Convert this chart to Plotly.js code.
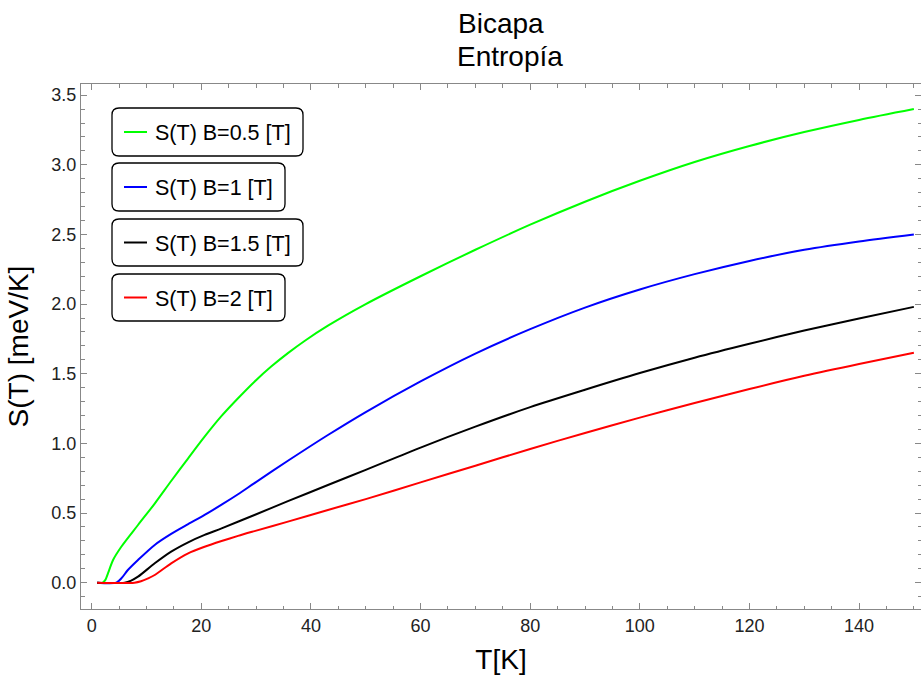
<!DOCTYPE html>
<html>
<head>
<meta charset="utf-8">
<script src="https://cdn.plot.ly/plotly-3.0.1.min.js"></script>
<style>html,body{margin:0;padding:0;background:#fff;}</style>
</head>
<body>
<div id="chart" style="width:921px;height:678px;"></div>
<script>
// ---- data ----
const seriesNames = ["S(T) B=0.5 [T]", "S(T) B=1 [T]", "S(T) B=1.5 [T]", "S(T) B=2 [T]"];

const T_B05 = [1, 2, 2.5, 3, 3.9, 5.4, 8.45, 11.5, 14.5, 17.6, 20.6, 23.7, 26.7, 29.7, 32.8, 35.8, 38.9, 43.1, 50, 60, 70, 80, 90, 100, 110, 120, 130, 140, 150];
const S_B05 = [0, 0, 0.02, 0.07, 0.163, 0.258, 0.414, 0.568, 0.73, 0.893, 1.048, 1.197, 1.324, 1.443, 1.553, 1.648, 1.737, 1.845, 2.0, 2.2, 2.39, 2.57, 2.735, 2.885, 3.02, 3.135, 3.235, 3.322, 3.40];

const T_B1 = [1, 4.5, 5.5, 6.6, 8.45, 11.5, 14.5, 17.6, 20.6, 23.7, 26.7, 29.7, 35.8, 43.1, 50, 60, 70, 80, 90, 100, 110, 120, 130, 140, 150];
const S_B1 = [0, 0, 0.035, 0.091, 0.163, 0.271, 0.35, 0.42, 0.486, 0.56, 0.635, 0.715, 0.875, 1.06, 1.225, 1.445, 1.645, 1.82, 1.975, 2.105, 2.215, 2.31, 2.39, 2.45, 2.50];

const T_B15 = [1, 6, 7.2, 8.45, 11.5, 14.5, 17.6, 20.6, 23.7, 29.7, 35.8, 43.1, 50, 60, 70, 80, 90, 100, 110, 120, 130, 140, 150];
const S_B15 = [0, 0, 0.015, 0.043, 0.139, 0.223, 0.29, 0.343, 0.39, 0.486, 0.585, 0.701, 0.81, 0.97, 1.12, 1.26, 1.385, 1.505, 1.615, 1.715, 1.81, 1.897, 1.98];

const T_B2 = [1, 7.8, 9, 10.3, 11.5, 14.5, 17.6, 20.6, 23.7, 26.7, 29.7, 35.8, 43.1, 50, 60, 70, 80, 90, 100, 110, 120, 130, 140, 150];
const S_B2 = [0, 0, 0.01, 0.031, 0.055, 0.139, 0.211, 0.258, 0.299, 0.336, 0.37, 0.438, 0.522, 0.60, 0.72, 0.84, 0.96, 1.075, 1.185, 1.29, 1.39, 1.485, 1.57, 1.65];

const xTickVals = [0, 20, 40, 60, 80, 100, 120, 140];
const yTickVals = [0, 0.5, 1, 1.5, 2, 2.5, 3, 3.5];

const titleLines = ["Bicapa", "Entropía"];
const xTitle = "T[K]";
const yTitle = "S(T) [meV/K]";

// ---- styles ----
const colors = ["#00ff00", "#0000ff", "#000000", "#ff0000"];
const FONT = "Liberation Sans, Arial, Helvetica, sans-serif";
const W = 921, H = 678;
const M = {l: 81, r: 0, t: 84, b: 69};
const PW = W - M.l - M.r, PH = H - M.t - M.b;
const px2x = p => (p - M.l) / PW;
const py2y = p => (H - M.b - p) / PH;

const Ts = [T_B05, T_B1, T_B15, T_B2];
const Ss = [S_B05, S_B1, S_B15, S_B2];

const traces = Ts.map((t, i) => ({
  x: t, y: Ss[i], type: "scatter", mode: "lines", name: seriesNames[i],
  line: {color: colors[i], width: 2, shape: "spline", smoothing: 0.8},
  showlegend: false, hoverinfo: "skip"
}));

// ---- legend (four separate rounded boxes) ----
const boxes = [
  {x0: 112, x1: 303, y0: 108, y1: 156},
  {x0: 112, x1: 285, y0: 163, y1: 211},
  {x0: 112, x1: 303, y0: 219, y1: 266},
  {x0: 112, x1: 285, y0: 274, y1: 321}
];
function roundRect(b, r) {
  const P = (x, y) => px2x(x).toFixed(5) + "," + py2y(y).toFixed(5);
  return "M" + P(b.x0 + r, b.y0) + " L" + P(b.x1 - r, b.y0) +
    " Q" + P(b.x1, b.y0) + " " + P(b.x1, b.y0 + r) +
    " L" + P(b.x1, b.y1 - r) +
    " Q" + P(b.x1, b.y1) + " " + P(b.x1 - r, b.y1) +
    " L" + P(b.x0 + r, b.y1) +
    " Q" + P(b.x0, b.y1) + " " + P(b.x0, b.y1 - r) +
    " L" + P(b.x0, b.y0 + r) +
    " Q" + P(b.x0, b.y0) + " " + P(b.x0 + r, b.y0) + " Z";
}
const shapes = [];
const annotations = [];
boxes.forEach((b, i) => {
  shapes.push({type: "path", xref: "paper", yref: "paper", path: roundRect(b, 7),
    line: {color: "#000", width: 1.3}, fillcolor: "rgba(255,255,255,1)", layer: "above"});
  const cy = (b.y0 + b.y1) / 2;
  shapes.push({type: "line", xref: "paper", yref: "paper",
    x0: px2x(124), x1: px2x(147), y0: py2y(cy), y1: py2y(cy),
    line: {color: colors[i], width: 2}, layer: "above"});
  annotations.push({xref: "paper", yref: "paper", x: px2x(153), y: py2y(cy + 1),
    xanchor: "left", yanchor: "middle", showarrow: false, text: seriesNames[i],
    font: {family: FONT, size: 21.5, color: "#000"}});
});
// title lines
annotations.push({xref: "paper", yref: "paper", x: px2x(501), y: py2y(23), xanchor: "center", yanchor: "middle",
  showarrow: false, text: titleLines[0], font: {family: FONT, size: 28, color: "#000"}});
annotations.push({xref: "paper", yref: "paper", x: px2x(510), y: py2y(56), xanchor: "center", yanchor: "middle",
  showarrow: false, text: titleLines[1], font: {family: FONT, size: 28, color: "#000"}});

const axisCommon = {
  showgrid: false, zeroline: false, showline: true, linecolor: "#888", linewidth: 1,
  mirror: "allticks", ticks: "inside", ticklen: 6, tickwidth: 1, tickcolor: "#888",
  tickfont: {family: FONT, size: 18, color: "#222"}
};

const layout = {
  width: W, height: H, margin: M, paper_bgcolor: "#fff", plot_bgcolor: "#fff",
  showlegend: false,
  xaxis: Object.assign({}, axisCommon, {
    range: [-1.95, 151.3], tickvals: xTickVals,
    minor: {dtick: 5, tick0: 0, ticks: "inside", ticklen: 3.5, tickcolor: "#888", showgrid: false},
    title: {text: xTitle, font: {family: FONT, size: 28, color: "#000"}, standoff: 14}
  }),
  yaxis: Object.assign({}, axisCommon, {
    range: [-0.189, 3.58], tickvals: yTickVals, tickformat: ".1f",
    minor: {dtick: 0.1, tick0: 0, ticks: "inside", ticklen: 3.5, tickcolor: "#888", showgrid: false},
    title: {text: yTitle, font: {family: FONT, size: 28, color: "#000"}, standoff: 14}
  }),
  shapes: shapes,
  annotations: annotations
};

Plotly.newPlot("chart", traces, layout, {staticPlot: true, displayModeBar: false});
</script>
</body>
</html>
